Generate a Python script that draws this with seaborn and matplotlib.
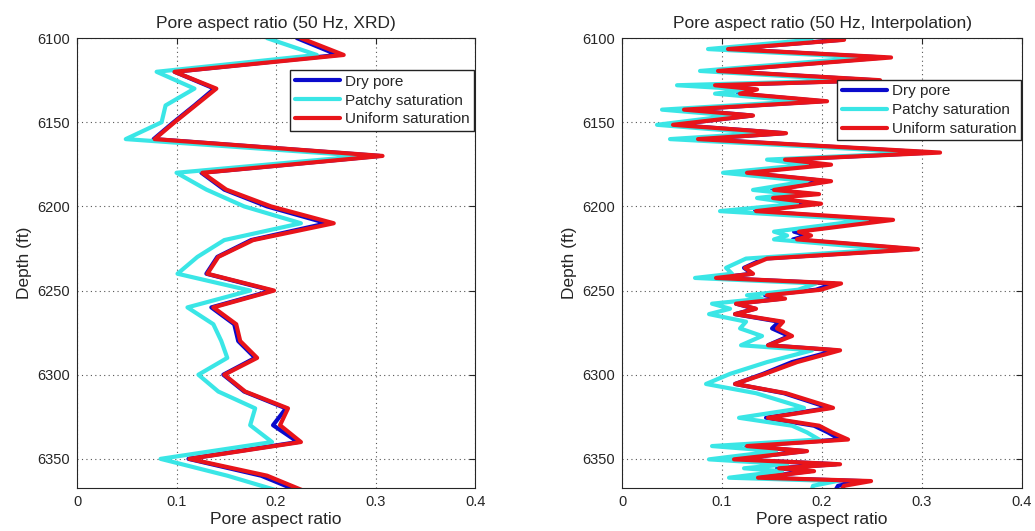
import pandas as pd
import matplotlib
matplotlib.use("Agg")
import matplotlib.pyplot as plt
import seaborn as sns

# ---- data ----
series_names = ["Dry pore", "Patchy saturation", "Uniform saturation"]
series_colors = ["#0a0acc", "#3ae6e6", "#e8141a"]

x_ticks = [0, 0.1, 0.2, 0.3, 0.4]
x_tick_labels = ["0", "0.1", "0.2", "0.3", "0.4"]
y_ticks = [6100, 6150, 6200, 6250, 6300, 6350]

# left panel: XRD (sampled every 10 ft)
left_depth = [6100, 6110, 6120, 6130, 6140, 6150, 6160, 6170, 6180, 6190,
              6200, 6210, 6220, 6230, 6240, 6250, 6260, 6270, 6280, 6290,
              6300, 6310, 6320, 6330, 6340, 6350, 6360, 6370]
left_dry = [0.221, 0.262, 0.098, 0.138, 0.118, 0.097, 0.077, 0.304, 0.125, 0.148,
            0.191, 0.251, 0.175, 0.141, 0.130, 0.196, 0.135, 0.158, 0.162, 0.179,
            0.147, 0.168, 0.210, 0.197, 0.222, 0.112, 0.185, 0.226]
left_patchy = [0.191, 0.241, 0.080, 0.118, 0.089, 0.085, 0.049, 0.288, 0.100, 0.130,
               0.168, 0.225, 0.148, 0.121, 0.101, 0.174, 0.111, 0.137, 0.145, 0.151,
               0.122, 0.142, 0.179, 0.174, 0.196, 0.084, 0.151, 0.208]
left_uniform = [0.225, 0.268, 0.098, 0.140, 0.119, 0.098, 0.078, 0.307, 0.126, 0.150,
                0.195, 0.258, 0.177, 0.142, 0.131, 0.198, 0.137, 0.160, 0.164, 0.181,
                0.148, 0.169, 0.212, 0.204, 0.225, 0.113, 0.191, 0.232]

# right panel: interpolated log
right_depth = [6100, 6101, 6106.5, 6111.5, 6119.5, 6125, 6128, 6130.5, 6133, 6137.5,
               6142.5, 6146, 6151.5, 6156.5, 6160, 6168, 6172.2, 6175.2, 6180, 6185,
               6190.2, 6192.7, 6195, 6198.4, 6202.8, 6208, 6215, 6217.3, 6219.6, 6225.4,
               6231, 6236.5, 6240, 6242.5, 6245.8, 6249.5, 6252.8, 6254.8, 6257.8, 6260.8,
               6264, 6268.5, 6272.5, 6277, 6282.5, 6285.5, 6292.5, 6299.5, 6305.5, 6311,
               6319.7, 6325.6, 6330.3, 6334.3, 6338.5, 6342.4, 6345.4, 6350.3, 6353.2, 6355.6,
               6357.3, 6361.2, 6363.2, 6366, 6368]
right_dry = [0.218, 0.219, 0.106, 0.262, 0.096, 0.252, 0.092, 0.133, 0.116, 0.200,
             0.062, 0.130, 0.051, 0.162, 0.076, 0.309, 0.162, 0.198, 0.124, 0.205,
             0.150, 0.190, 0.149, 0.188, 0.133, 0.256, 0.172, 0.185, 0.171, 0.290,
             0.142, 0.122, 0.130, 0.094, 0.212, 0.194, 0.143, 0.160, 0.114, 0.133,
             0.113, 0.157, 0.150, 0.167, 0.146, 0.214, 0.170, 0.141, 0.113, 0.162,
             0.207, 0.144, 0.192, 0.206, 0.218, 0.124, 0.183, 0.112, 0.214, 0.155,
             0.188, 0.135, 0.240, 0.216, 0.214]
right_patchy = [0.190, 0.188, 0.086, 0.243, 0.078, 0.232, 0.055, 0.125, 0.093, 0.180,
                0.040, 0.110, 0.035, 0.140, 0.048, 0.300, 0.145, 0.185, 0.101, 0.185,
                0.131, 0.172, 0.135, 0.175, 0.098, 0.245, 0.152, 0.165, 0.152, 0.266,
                0.124, 0.104, 0.110, 0.073, 0.194, 0.176, 0.125, 0.140, 0.090, 0.108,
                0.087, 0.124, 0.118, 0.140, 0.119, 0.190, 0.145, 0.108, 0.084, 0.134,
                0.182, 0.117, 0.170, 0.185, 0.197, 0.090, 0.154, 0.087, 0.165, 0.122,
                0.160, 0.107, 0.215, 0.191, 0.190]
right_uniform = [0.222, 0.222, 0.106, 0.269, 0.096, 0.258, 0.093, 0.135, 0.118, 0.205,
                 0.062, 0.131, 0.051, 0.164, 0.076, 0.318, 0.163, 0.209, 0.125, 0.209,
                 0.152, 0.197, 0.151, 0.199, 0.134, 0.271, 0.177, 0.189, 0.175, 0.296,
                 0.145, 0.123, 0.131, 0.094, 0.219, 0.199, 0.145, 0.163, 0.114, 0.134,
                 0.113, 0.161, 0.155, 0.170, 0.146, 0.218, 0.175, 0.143, 0.113, 0.164,
                 0.211, 0.146, 0.197, 0.210, 0.226, 0.125, 0.185, 0.112, 0.218, 0.157,
                 0.192, 0.136, 0.249, 0.222, 0.220]


def long_frame(depth, dry, patchy, uniform):
    parts = []
    for name, vals in zip(series_names, [dry, patchy, uniform]):
        parts.append(pd.DataFrame({"depth": depth, "ratio": vals, "model": name}))
    return pd.concat(parts, ignore_index=True)


left_df = long_frame(left_depth, left_dry, left_patchy, left_uniform)
right_df = long_frame(right_depth, right_dry, right_patchy, right_uniform)

sns.set_style("white")
plt.rcParams["font.family"] = ["Liberation Sans", "DejaVu Sans"]

palette = dict(zip(series_names, series_colors))

fig = plt.figure(figsize=(10.35, 5.31), dpi=100)
ax_left = fig.add_axes([0.0744, 0.0804, 0.3846, 0.8478])
ax_right = fig.add_axes([0.601, 0.0804, 0.3865, 0.8478])

panels = [
    (ax_left, left_df, "Pore aspect ratio (50 Hz, XRD)", 0.929),
    (ax_right, right_df, "Pore aspect ratio (50 Hz, Interpolation)", 0.908),
]

for ax, df, title, legend_top in panels:
    sns.lineplot(
        data=df,
        x="ratio",
        y="depth",
        hue="model",
        hue_order=series_names,
        palette=palette,
        sort=False,
        estimator=None,
        linewidth=3.0,
        ax=ax,
    )
    ax.set_xlim(0, 0.4)
    ax.set_ylim(6367.5, 6100)
    ax.set_xticks(x_ticks)
    ax.set_xticklabels(x_tick_labels)
    ax.set_yticks(y_ticks)
    ax.grid(True, linestyle=(0, (1, 3)), color="#555555", linewidth=0.8)
    ax.tick_params(direction="in", top=True, right=True, length=4,
                   width=0.8, labelsize=10.5, pad=5)
    for spine in ax.spines.values():
        spine.set_visible(True)
        spine.set_color("#262626")
        spine.set_linewidth(0.8)
    ax.set_xlabel("Pore aspect ratio", fontsize=12.5, labelpad=2)
    ax.set_ylabel("Depth (ft)", fontsize=12.5, labelpad=4)
    ax.set_title(title, fontsize=12.5, pad=7)

    handles, labels = ax.get_legend_handles_labels()
    ax.legend(
        handles, labels,
        loc="upper right",
        bbox_to_anchor=(0.998, legend_top),
        fontsize=11,
        frameon=True,
        fancybox=False,
        edgecolor="#222222",
        framealpha=1,
        borderpad=0.3,
        labelspacing=0.32,
        handlelength=3.0,
        handletextpad=0.3,
        borderaxespad=0,
    )

fig.savefig("out.png", dpi=100)
